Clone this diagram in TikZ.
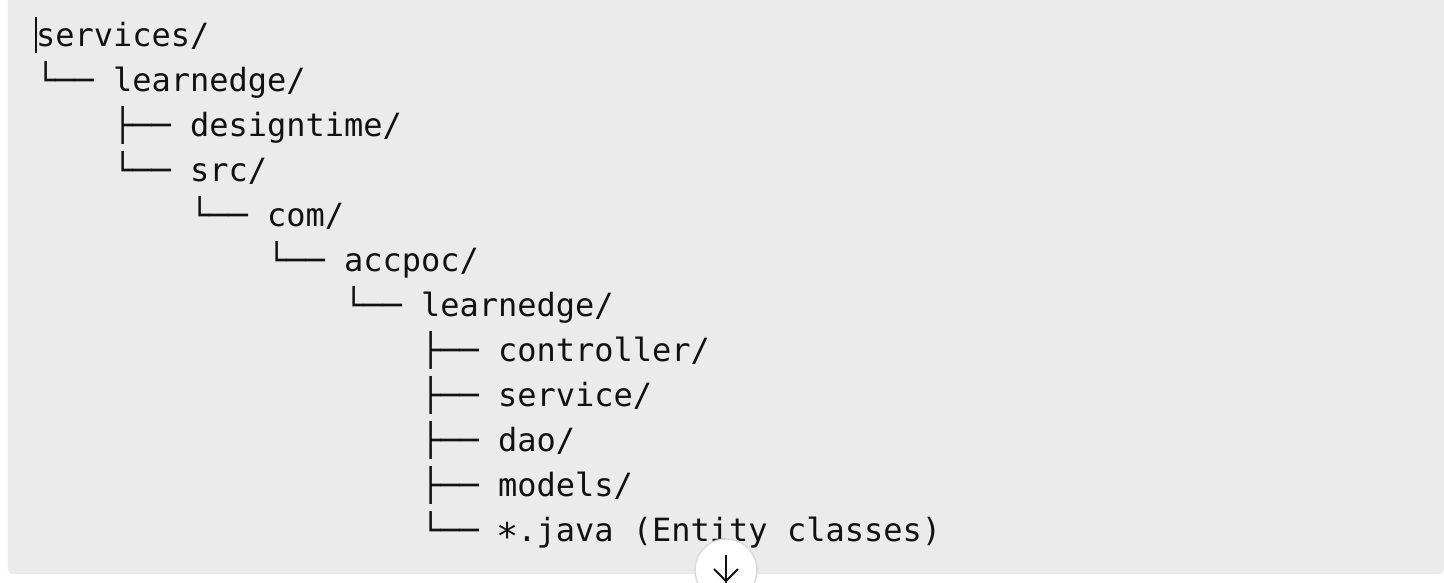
\documentclass[tikz,border=0pt]{standalone}
\usepackage{fontspec}
\usepackage{graphicx}
\newfontfamily\treemono{DejaVu Sans Mono}
\definecolor{panelgrey}{HTML}{EBEBEB}
\definecolor{ringgrey}{HTML}{DADADA}
\definecolor{inkdark}{HTML}{111111}
\tikzset{
  treeline/.style={anchor=base west, inner sep=0pt, outer sep=0pt, text=inkdark,
    font=\treemono\fontsize{32}{45}\selectfont},
}
\newcommand{\midstar}{\makebox[19.26pt][c]{\raisebox{-7.5pt}{\scalebox{1.15}{*}}}}
\begin{document}
\begin{tikzpicture}[x=1pt,y=-1pt]
\useasboundingbox (0,0) rectangle (1444,582);
\begin{scope}
\clip (0,0) rectangle (1444,582);
\fill[panelgrey, rounded corners=6pt] (7.5,-20) rectangle (1444,574);
\node[treeline] (l0)  at (36.0+19.25*0,  46.5+45*0)  {services/};
\node[treeline] (l1)  at (36.0+19.25*0,  46.5+45*1)  {└── learnedge/};
\node[treeline] (l2)  at (36.0+19.25*4,  46.5+45*2)  {├── designtime/};
\node[treeline] (l3)  at (36.0+19.25*4,  46.5+45*3)  {└── src/};
\node[treeline] (l4)  at (36.0+19.25*8,  46.5+45*4)  {└── com/};
\node[treeline] (l5)  at (36.0+19.25*12, 46.5+45*5)  {└── accpoc/};
\node[treeline] (l6)  at (36.0+19.25*16, 46.5+45*6)  {└── learnedge/};
\node[treeline] (l7)  at (36.0+19.25*20, 46.5+45*7)  {├── controller/};
\node[treeline] (l8)  at (36.0+19.25*20, 46.5+45*8)  {├── service/};
\node[treeline] (l9)  at (36.0+19.25*20, 46.5+45*9)  {├── dao/};
\node[treeline] (l10) at (36.0+19.25*20, 46.5+45*10) {├── models/};
\node[treeline] (l11) at (36.0+19.25*20, 46.5+45*11) {└── \midstar.java (Entity classes)};
% text caret
\draw[inkdark, line width=1.5pt] (36,17) -- (36,53);
% scroll-down button
\node[circle, minimum size=62pt, inner sep=0pt, fill=white, draw=ringgrey, line width=1.5pt] (down) at (726,570) {};
\draw[inkdark, line width=1.8pt] (726,555) -- (726,583);
\draw[inkdark, line width=1.8pt, line join=miter] (714,569) -- (726,581) -- (738,569);
\end{scope}
\end{tikzpicture}
\end{document}
